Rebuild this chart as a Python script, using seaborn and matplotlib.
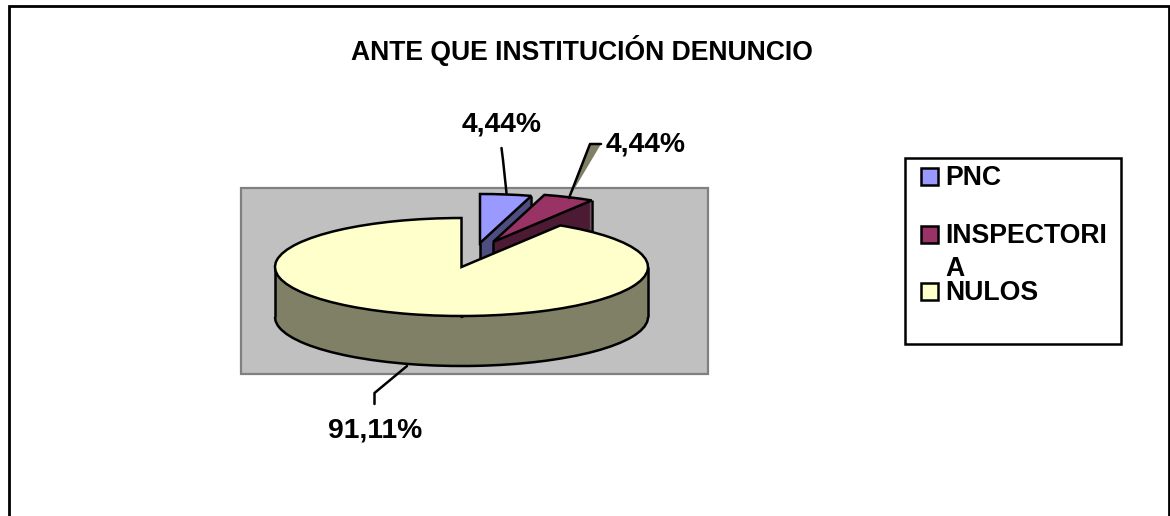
import numpy as np
import matplotlib
matplotlib.use("Agg")
import matplotlib.pyplot as plt
from matplotlib.patches import Rectangle, Polygon
import seaborn as sns

# ---- data ----
title = "ANTE QUE INSTITUCIÓN DENUNCIO"
categories = ["PNC", "INSPECTORIA", "NULOS"]
legend_labels = ["PNC", "INSPECTORI\nA", "NULOS"]
values = [4.44, 4.44, 91.11]

# ---- style ----
sns.set_theme(style="white")
plt.rcParams["font.family"] = ["Liberation Sans", "DejaVu Sans"]
W, H = 1170, 516
top_colors = ["#9999FF", "#993366", "#FFFFCC"]
side_colors = ["#4D4D80", "#4D1A33", "#808066"]
LW = 1.8
RX, RY, DEPTH = 186.5, 49.0, 50       # pixels
CX, CY = 461.5, 267.0                 # pie centre in pixels
centres_px = [(480, 243), (493, 242), (CX, CY)]
draw_order = [0, 1, 2]

fig = plt.figure(figsize=(W / 100, H / 100), dpi=100, facecolor="white")


def pixel_axes(z):
    a = fig.add_axes([0, 0, 1, 1], zorder=z)
    a.set_xlim(0, W)
    a.set_ylim(H, 0)
    a.axis("off")
    a.patch.set_alpha(0)
    return a


bg = pixel_axes(0)
fg = pixel_axes(2)

# outer chart frame (open at the bottom)
bg.plot([8.5, 8.5, 1168.5, 1168.5], [H + 5, 6, 6, H + 5], color="black", lw=2.0,
        solid_joinstyle="miter")
# plot area
bg.add_patch(Rectangle((240.5, 188), 467, 186, facecolor="#C0C0C0", edgecolor="#808080", lw=1.6))

# ---- pie, axes scaled so one data unit is the ellipse semi-axis ----
ax = fig.add_axes([0, 0, 1, 1], zorder=1)
ax.patch.set_alpha(0)


def to_data(px, py):
    return (px - CX) / RX, (CY - py) / RY


z = [10]


def next_z():
    z[0] += 1
    return z[0]


def one_wedge(i, centre, **kw):
    wedges, _ = ax.pie(values, startangle=90, counterclock=False, radius=1, center=centre,
                       colors=[kw.get("facecolor", "none")] * len(values),
                       wedgeprops={"edgecolor": kw.get("edgecolor", "none"),
                                   "linewidth": kw.get("linewidth", 0)})
    for j, w in enumerate(wedges):
        w.set_visible(j == i)
    wedges[i].set_zorder(next_z())
    return wedges[i]


fractions = np.cumsum([0] + values) / np.sum(values)
step = 1.0 / RY
for i in draw_order:
    cx, cy = to_data(*centres_px[i])
    # extruded body, stacked from the bottom face up
    for k in range(DEPTH, -1, -1):
        one_wedge(i, (cx, cy - k * step), facecolor=side_colors[i])
    # front half of the bottom outline
    w = one_wedge(i, (cx, cy - DEPTH * step), facecolor="none", edgecolor="black", linewidth=LW)
    w.set_joinstyle("round")
    w.set_clip_on(True)
    w.set_clip_path(Rectangle((-10, -100), 20, 100 + cy - DEPTH * step, transform=ax.transData))
    # vertical edges of the body
    if i == 2:
        xs = [cx - 1, cx + 1]
        ys = [cy, cy]
    else:
        a1 = 2 * np.pi * fractions[i + 1]
        xs = [cx + np.sin(a1), cx]
        ys = [cy + np.cos(a1), cy]
    for x, y in zip(xs, ys):
        ax.plot([x, x], [y, y - DEPTH * step], color="black", lw=LW,
                solid_capstyle="butt", zorder=next_z())
    one_wedge(i, (cx, cy), facecolor=top_colors[i], edgecolor="black", linewidth=LW)

ax.set_aspect("auto")
ax.set_xlim((0 - CX) / RX, (W - CX) / RX)
ax.set_ylim((CY - H) / RY, CY / RY)
ax.axis("off")

# ---- leader lines ----
fg.add_patch(Polygon([(590, 144), (601, 144), (569, 198)], closed=True, facecolor="#808066", edgecolor="none"))
fg.plot([501.5, 503, 506.5], [148, 160, 193], color="black", lw=LW)
fg.plot([601, 590, 569], [144, 144, 198], color="black", lw=LW)
fg.plot([407, 374.5, 374.5], [366, 393, 404], color="black", lw=LW)

# ---- text ----
fmt = [f"{v:.2f}".replace(".", ",") + "%" for v in values]
label_pos = [(502, 125), (645.5, 145), (375, 430)]
for s, (x, y) in zip(fmt, label_pos):
    fg.text(x, y, s, ha="center", va="center", fontsize=20.3, fontweight="bold", color="black")
fg.text(582, 51, title, ha="center", va="center", fontsize=19.1, fontweight="bold", color="black")

# ---- legend box ----
fg.add_patch(Rectangle((904.5, 158), 216, 186, facecolor="white", edgecolor="black", lw=LW))
key_y = [176, 234, 291]
for y, c in zip(key_y, top_colors):
    fg.add_patch(Rectangle((921, y - 8.5), 17, 17, facecolor=c, edgecolor="black", lw=LW))
text_y = [178, 236, 293]
for y, s in zip(text_y, legend_labels):
    first, *rest = s.split("\n")
    fg.text(945, y, first, ha="left", va="center", fontsize=19.2, fontweight="bold", color="black")
    for r in rest:
        fg.text(945, y + 33, r, ha="left", va="center", fontsize=19.2, fontweight="bold", color="black")

fig.savefig("out.png", dpi=100, facecolor="white")
